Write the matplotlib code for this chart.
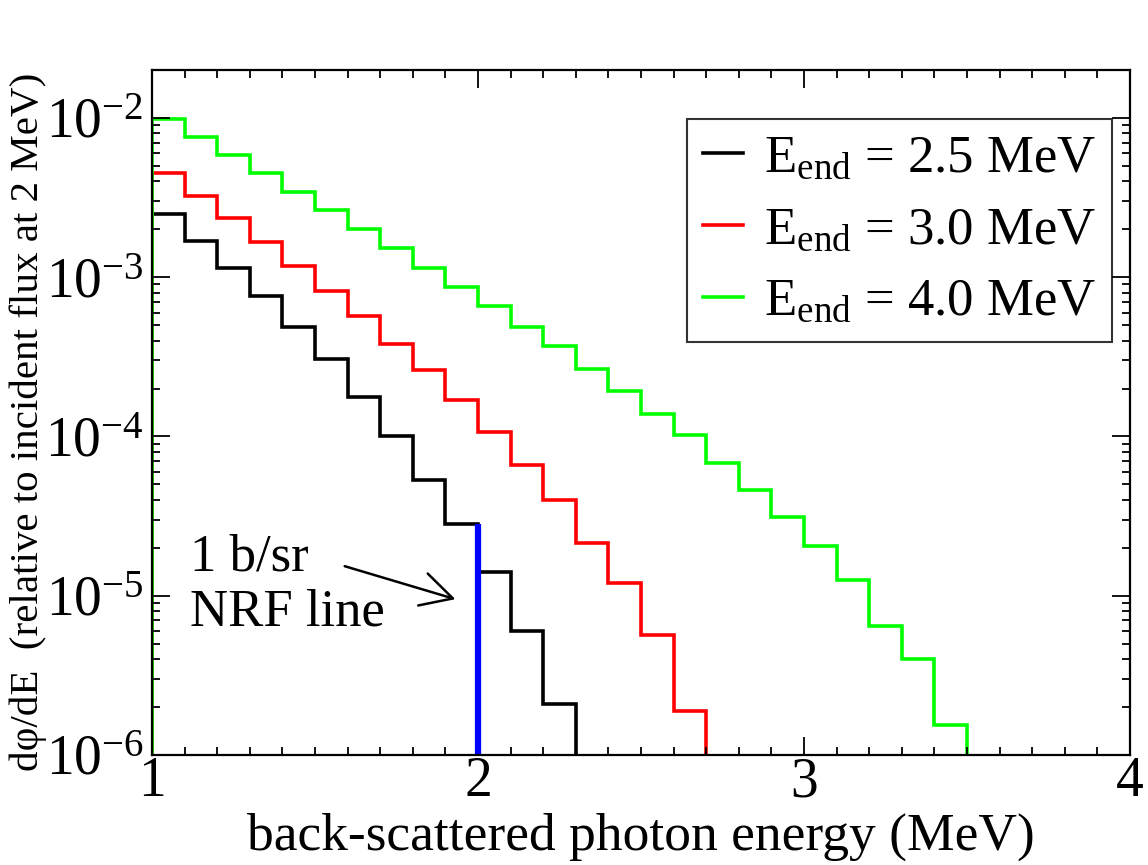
import numpy as np
import matplotlib
matplotlib.use("Agg")
import matplotlib.pyplot as plt
from matplotlib.ticker import FixedLocator, LogLocator, NullFormatter, FuncFormatter

plt.rcParams["font.family"] = ["Liberation Serif", "DejaVu Serif"]
plt.rcParams["mathtext.fontset"] = "custom"
plt.rcParams["mathtext.rm"] = "Liberation Serif"
plt.rcParams["mathtext.it"] = "Liberation Serif:italic"

# bin edges (MeV) and bin contents
edges = np.round(np.arange(1.0, 3.51, 0.1), 2)
flux_25 = [2.5e-3, 1.69e-3, 1.14e-3, 7.6e-4, 4.84e-4, 3.07e-4, 1.76e-4, 1.0e-4,
           5.3e-5, 2.84e-5, 1.41e-5, 6.0e-6, 2.1e-6]
flux_30 = [4.48e-3, 3.24e-3, 2.35e-3, 1.67e-3, 1.17e-3, 8.2e-4, 5.7e-4, 3.8e-4,
           2.6e-4, 1.7e-4, 1.06e-4, 6.6e-5, 4.0e-5, 2.15e-5, 1.21e-5, 5.7e-6, 1.9e-6]
flux_40 = [9.8e-3, 7.6e-3, 5.86e-3, 4.48e-3, 3.45e-3, 2.64e-3, 2.0e-3, 1.52e-3,
           1.15e-3, 8.7e-4, 6.6e-4, 4.9e-4, 3.7e-4, 2.65e-4, 1.94e-4, 1.39e-4,
           1.02e-4, 6.8e-5, 4.6e-5, 3.1e-5, 2.04e-5, 1.25e-5, 6.5e-6, 4.0e-6, 1.54e-6]
labels = [r"$\mathregular{E_{end}}$ = 2.5 MeV",
          r"$\mathregular{E_{end}}$ = 3.0 MeV",
          r"$\mathregular{E_{end}}$ = 4.0 MeV"]
colors = ["black", "red", "#00ff00"]

nrf_x = [2.0, 2.0]
nrf_y = [1e-6, 2.84e-5]

fig = plt.figure(figsize=(11.48, 8.65), dpi=100)
ax = fig.add_axes([0.1324, 0.1272, 0.8519, 0.7919])

for vals, lab, col in zip([flux_25, flux_30, flux_40], labels, colors):
    ax.stairs(vals, edges[:len(vals) + 1], baseline=1e-7, color=col, lw=2.6, label=lab)

ax.plot(nrf_x, nrf_y, color="blue", lw=4.5, solid_capstyle="butt")

ax.set_yscale("log")
ax.set_xlim(1, 4)
ax.set_ylim(1e-6, 2e-2)

ax.xaxis.set_major_locator(FixedLocator([1, 2, 3, 4]))
ax.xaxis.set_minor_locator(FixedLocator(np.arange(1.0, 4.01, 0.1)))
ax.yaxis.set_major_locator(LogLocator(base=10, numticks=20))
ax.yaxis.set_minor_locator(LogLocator(base=10, subs=np.arange(2, 10), numticks=20))
ax.yaxis.set_minor_formatter(NullFormatter())
ax.yaxis.set_major_formatter(FuncFormatter(lambda v, p: r"$\mathregular{10^{%d}}$" % round(np.log10(v))))

ax.tick_params(which="both", direction="in", top=True, right=True, width=1.3, labelsize=40)
ax.tick_params(which="major", length=13)
ax.tick_params(which="minor", length=6)
ax.tick_params(axis="x", pad=1)
ax.tick_params(axis="y", pad=6)
for s in ax.spines.values():
    s.set_linewidth(1.6)

fig.text(0.5583, 1 - 850 / 865, "back-scattered photon energy (MeV)", fontsize=38.5,
         ha="center", va="baseline")
fig.text(0.025, 1 - 422 / 865, "d\u03c6/dE  (relative to incident flux at 2 MeV)",
         rotation=90, fontsize=29.5, ha="center", va="center")

ax.text(1.117, 6.53e-6, "1 b/sr\nNRF line", fontsize=38, ha="left", va="baseline",
        linespacing=1.17)
ax.annotate("", xy=(1.939, 9.4e-6), xytext=(1.583, 1.55e-5),
            arrowprops=dict(arrowstyle="->,head_length=0.75,head_width=0.4",
                            color="black", lw=1.8, mutation_scale=30))

leg = ax.legend(loc="upper right", bbox_to_anchor=(0.9816, 0.9285), borderaxespad=0,
                fontsize=38, handlelength=0.75, handletextpad=0.4, labelspacing=0.45,
                borderpad=0.3, frameon=True, fancybox=False)
leg.get_frame().set_edgecolor("black")
leg.get_frame().set_linewidth(1.5)

fig.savefig("out.png", dpi=100)
